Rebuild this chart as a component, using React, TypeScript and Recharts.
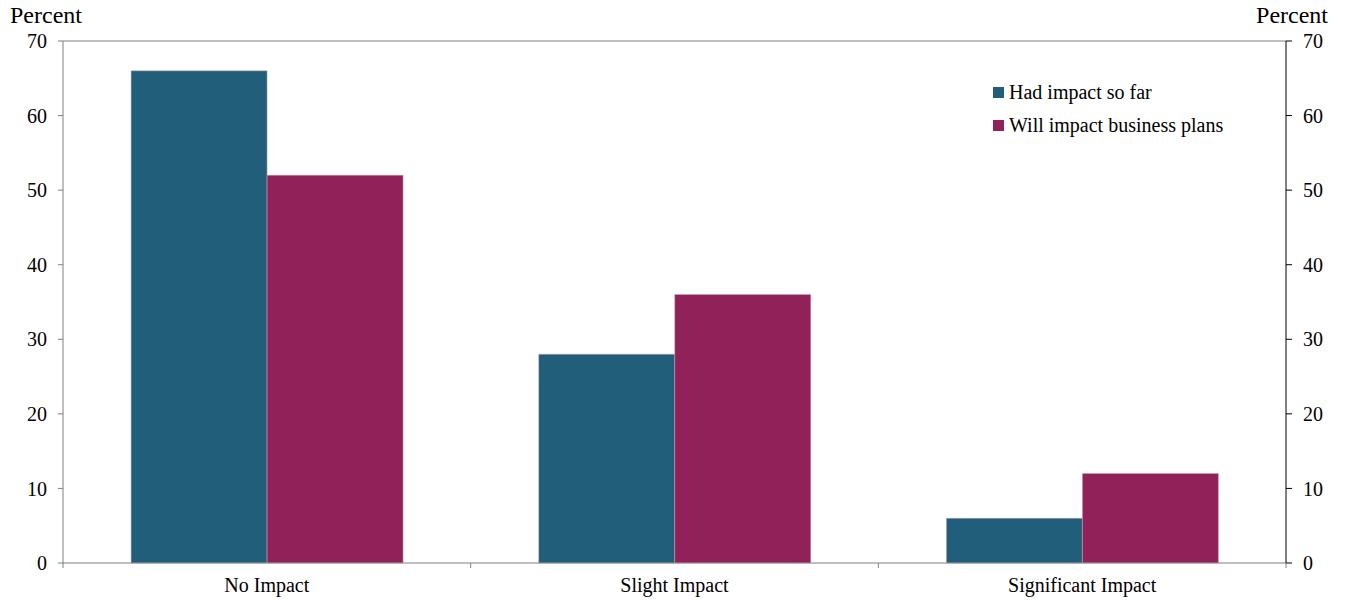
import React from 'react';
import { BarChart, Bar, XAxis, YAxis, Legend, ReferenceLine } from 'recharts';

const categories = ['No Impact', 'Slight Impact', 'Significant Impact'];
const hadImpact = [66, 28, 6];
const willImpact = [52, 36, 12];
const yTicks = [0, 10, 20, 30, 40, 50, 60, 70];

const SERIES = [
  { key: 'had', name: 'Had impact so far', color: '#215E7A', axis: 'left' },
  { key: 'will', name: 'Will impact business plans', color: '#912259', axis: 'right' },
];

const data = categories.map((name, i) => ({ name, had: hadImpact[i], will: willImpact[i] }));

const FONT = '"Liberation Serif", "Times New Roman", serif';
const GRAY = '#808080';

const CatTick = (props: any) => {
  const { x, y, payload, index, visibleTicksCount } = props;
  const off = payload && payload.offset != null ? payload.offset : 0;
  const last = index === (visibleTicksCount ?? categories.length) - 1;
  return (
    <g>
      <line x1={x - off} x2={x - off} y1={y} y2={y + 5} stroke={GRAY} />
      {last && <line x1={x + off} x2={x + off} y1={y} y2={y + 5} stroke={GRAY} />}
      <text x={x} y={y + 15} dy="0.71em" textAnchor="middle" fill="#000" fontSize={20} fontFamily={FONT}>
        {payload.value}
      </text>
    </g>
  );
};

const LegendBox = () => (
  <div style={{ fontFamily: FONT, fontSize: 20, color: '#000', textAlign: 'left' }}>
    {SERIES.map((s) => (
      <div key={s.key} style={{ display: 'flex', alignItems: 'center', height: 33 }}>
        <span style={{ display: 'inline-block', width: 11, height: 11, background: s.color, marginRight: 5 }} />
        <span>{s.name}</span>
      </div>
    ))}
  </div>
);

export default function App() {
  return (
    <div style={{ position: 'absolute', left: 0, top: 0, width: 1345, height: 602, background: '#fff' }}>
      <span style={{ position: 'absolute', left: 10, top: 2, fontFamily: FONT, fontSize: 24 }}>Percent</span>
      <span style={{ position: 'absolute', right: 17, top: 2, fontFamily: FONT, fontSize: 24 }}>Percent</span>
      <BarChart
        width={1345}
        height={602}
        data={data}
        margin={{ top: 41, right: 0, bottom: 0, left: 0 }}
        barCategoryGap="16.7%"
        barGap={0}
      >
        <XAxis
          dataKey="name"
          height={39}
          axisLine={{ stroke: GRAY }}
          tickLine={false}
          tickSize={0}
          tickMargin={0}
          interval={0}
          tick={<CatTick />}
        />
        <YAxis
          yAxisId="left"
          orientation="left"
          width={63}
          domain={[0, 70]}
          ticks={yTicks}
          interval={0}
          axisLine={{ stroke: GRAY }}
          tickLine={{ stroke: GRAY }}
          tickSize={5}
          tickMargin={11}
          tick={{ fill: '#000', fontSize: 20, fontFamily: FONT }}
        />
        <YAxis
          yAxisId="right"
          orientation="right"
          width={59}
          domain={[0, 70]}
          ticks={yTicks}
          interval={0}
          axisLine={{ stroke: '#000' }}
          tickLine={{ stroke: '#000' }}
          tickSize={6}
          tickMargin={11}
          tick={{ fill: '#000', fontSize: 20, fontFamily: FONT }}
        />
        <ReferenceLine yAxisId="left" y={70} stroke={GRAY} />
        <Legend
          layout="horizontal"
          verticalAlign="middle"
          align="center"
          content={<LegendBox />}
          wrapperStyle={{ left: 993, top: 76, width: 300 }}
        />
        {SERIES.map((s) => (
          <Bar
            key={s.key}
            yAxisId={s.axis}
            dataKey={s.key}
            name={s.name}
            fill={s.color}
            stroke="#c9a6b8"
            strokeWidth={0.5}
            isAnimationActive={false}
          />
        ))}
      </BarChart>
    </div>
  );
}
